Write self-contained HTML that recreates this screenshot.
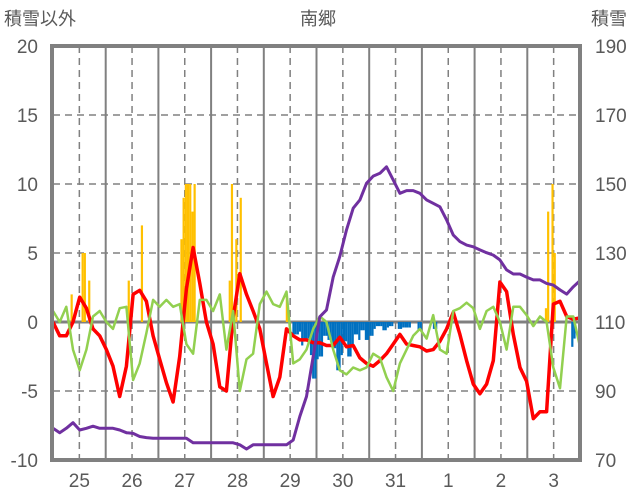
<!DOCTYPE html>
<html><head><meta charset="utf-8"><style>
body{margin:0;background:#fff;width:636px;height:501px;overflow:hidden}
svg{display:block;font-family:"Liberation Sans","Noto Sans CJK JP",sans-serif}
</style></head><body>
<svg id="chart" width="636" height="501">
<text x="40" y="25" font-size="18" fill="#595959" text-anchor="middle">積雪以外</text>
<text x="318" y="25" font-size="18" fill="#595959" text-anchor="middle">南郷</text>
<text x="609" y="25" font-size="18" fill="#595959" text-anchor="middle">積雪</text>
<g id="grid"></g>
<g id="bars"></g>
<g id="lines"></g>
<g id="axes"></g>
</svg>
<script>
const leftTicks=[20,15,10,5,0,-5,-10];
const rightTicks=[190,170,150,130,110,90,70];
const dayLabels=["25","26","27","28","29","30","31","1","2","3"];
const redSeries=[0,-1,-1,0,1.8,1,-0.5,-1,-2,-3.2,-5.4,-3.2,2,2.3,1.5,-1,-2.7,-4.4,-5.8,-2.5,2.4,5.4,2.8,0,-1.6,-4.7,-5,0.3,3.5,2,0.8,-0.5,-3,-5.4,-4,-0.5,-1,-1.3,-1.3,-1.5,
-1.5,-1.7,-1.7,-1.1,-1.8,-1.7,-2.6,-3,-3.2,-2.8,-2.3,-1.6,-0.9,-1.6,-1.7,-1.8,-2.1,-2,-1.4,-0.5,0.7,-0.9,-2.8,-4.5,-5.2,-4.5,-2.8,2.9,2.2,-0.9,-3.3,-4.3,-7,-6.5,-6.5,1.3,1.5,0.4,0.2,0.3];
const greenSeries=[0.8,0,1.1,-2,-3.5,-2,0.4,0.8,0,-0.5,1,1.1,-4.2,-3,-0.8,1.6,1.1,1.6,1.1,1.3,-1.6,-2.3,1.6,1.6,0.8,2,-2,0.8,-5,-2.7,-2.3,1.3,2.2,1.3,1.1,2.2,-3,-2.7,-2,-0.5,
0.4,0,-2,-3.5,-3.8,-3.3,-3.5,-3.3,-2.3,-2.6,-4,-5,-3,-2,-1,-0.5,-1.2,0.5,-2,-2.3,0.8,1,1.4,1,-0.5,0.8,1.1,0,-2,1.1,1.1,0.5,-0.3,0.4,0,-3.3,-4.8,0.4,0.4,-1.8];
const snowDepth=[79.2,77.9,79.2,80.8,78.7,79.2,79.8,79.2,79.2,79.2,78.7,77.9,77.7,76.8,76.5,76.3,76.3,76.3,76.3,76.3,76.3,75,75,75,75,75,75,75,74.4,73.2,74.4,74.4,74.4,74.4,74.4,74.4,75.8,82.6,88.4,100,
111.5,113.5,123,129,136.7,143,145.4,150.2,152.3,153.1,155,151.2,147.3,148.1,148.1,147.3,145.4,144.4,143.4,139.6,135.2,133.3,132.3,131.8,130.9,130.1,129.4,128,125.1,123.9,123.9,123,122.2,122.2,121.2,120.7,119.3,118.1,120.2,122];
const orangeHours=[8,13,14,16,34,40,58,59,60,61,62,63,64,80,81,83,85,106,224,225,227,228];
const orangeValues=[2,5,5,3,3,7,6,9,10,10,10,8,10,3,10,6,9,2,1,8,10,5];
const blueHours=[109,110,111,112,113,114,115,116,117,118,119,120,121,122,123,124,125,126,127,128,129,130,131,132,133,134,135,136,137,138,139,140,141,142,143,144,145,146,147,148,149,150,151,152,153,154,157,158,159,160,161,162,166,167,173,174,236,237];
const blueValues=[-0.9,-0.9,-0.9,-0.7,-1.7,-1.2,-1.2,-1.2,-2.4,-4.1,-4.1,-2.7,-2.5,-2.5,-1,-1,-1.3,-1.3,-1.9,-1.9,-3.5,-3.5,-2.4,-1.4,-1.4,-2.5,-2.5,-1.7,-0.9,-0.9,-1.3,-0.6,-0.6,-1.3,-1.3,-1,-1,-0.5,-0.3,-0.3,-0.3,-0.6,-0.6,-0.4,-0.3,-0.3,-0.5,-0.5,-0.4,-0.4,-0.4,-0.4,-0.6,-0.6,-0.5,-0.5,-1.8,-1.2];

const NS="http://www.w3.org/2000/svg";
const L=53,R=580,T=46,B=460;
const yL=v=>B-(v+10)/30*(B-T);
const yR=v=>B-(v-70)/120*(B-T);
const xDay=d=>L+d*(R-L)/10;
const xHour=h=>L+h*(R-L)/240;
const xIdx=(i,n)=>L+i*(R-L)/(n-1);
function mk(tag,attrs,parent){const e=document.createElementNS(NS,tag);for(const k in attrs)e.setAttribute(k,attrs[k]);parent.appendChild(e);return e;}
const grid=document.getElementById('grid'),bars=document.getElementById('bars'),lines=document.getElementById('lines'),axes=document.getElementById('axes');

leftTicks.forEach(v=>{
  if(v===20||v===-10)return;
  const ln=mk('line',{x1:L,x2:R,y1:yL(v),y2:yL(v),stroke:'#808080','stroke-width':v===0?3:1.5,'stroke-dasharray':v===0?'none':'7,5'},grid);
  
  
});
for(let d=0;d<=10;d++){
  if(d>0&&d<10){
    const s=mk('line',{x1:xDay(d),x2:xDay(d),y1:T,y2:B,stroke:'#808080','stroke-width':2},grid);
    
    
  }
  if(d<10){
    const n=mk('line',{x1:xDay(d+0.5),x2:xDay(d+0.5),y1:T,y2:B,stroke:'#808080','stroke-width':1.5,'stroke-dasharray':'7,5'},grid);
    
    
  }
}
const bw=(R-L)/240;
orangeHours.forEach((h,i)=>{
  const v=orangeValues[i];
  const r=mk('rect',{x:xHour(h),y:yL(v),width:bw,height:yL(0)-yL(v),fill:'#FFC000'},bars);
  
  
});
blueHours.forEach((h,i)=>{
  const v=blueValues[i];
  const r=mk('rect',{x:xHour(h),y:yL(0),width:bw,height:yL(v)-yL(0),fill:'#0070C0'},bars);
  
  
});
function poly(arr,yf,color,w,name){
  const pts=arr.map((v,i)=>xIdx(i,arr.length).toFixed(1)+','+yf(v).toFixed(1)).join(' ');
  const p=mk('polyline',{points:pts,fill:'none',stroke:color,'stroke-width':w,'stroke-linejoin':'round'},lines);
  
  
}
poly(redSeries,yL,'#FF0000',3.5,'temperature-line');
poly(greenSeries,yL,'#92D050',2.5,'green-series-line');
poly(snowDepth,yR,'#7030A0',3,'snow-depth-line');

const fr=mk('rect',{x:L-1,y:T,width:R-L+1,height:B-T,fill:'none',stroke:'#808080','stroke-width':4},axes);


leftTicks.forEach(v=>{
  const t=mk('text',{x:38,y:yL(v)+7,'font-size':19,fill:'#595959','text-anchor':'end'},axes);
  t.textContent=v;
  
  
});
rightTicks.forEach(v=>{
  const t=mk('text',{x:595,y:yR(v)+7,'font-size':19,fill:'#595959'},axes);
  t.textContent=v;
  
  
});
dayLabels.forEach((s,i)=>{
  const t=mk('text',{x:xDay(i+0.5),y:487,'font-size':19,fill:'#595959','text-anchor':'middle'},axes);
  t.textContent=s;
  
  
});
</script>
</body></html>
